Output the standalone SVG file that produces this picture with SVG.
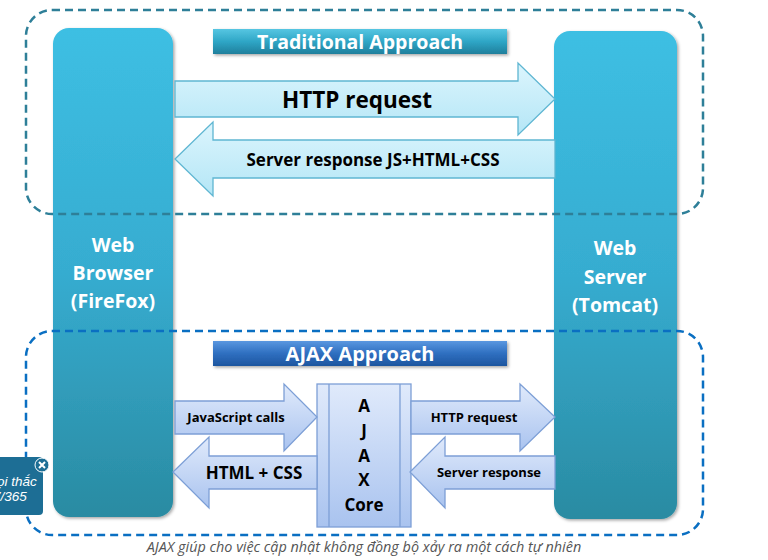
<svg xmlns="http://www.w3.org/2000/svg" width="768" height="560" viewBox="0 0 768 560">
<defs>
<linearGradient id="gCol" x1="0" y1="0" x2="0" y2="1">
<stop offset="0" stop-color="#3dbfe3"/>
<stop offset="0.5" stop-color="#36acd0"/>
<stop offset="1" stop-color="#2a8ba2"/>
</linearGradient>
<linearGradient id="gTrad" x1="0" y1="0" x2="0" y2="1">
<stop offset="0" stop-color="#56c6e2"/>
<stop offset="0.5" stop-color="#2fa6c6"/>
<stop offset="1" stop-color="#1f7f9c"/>
</linearGradient>
<linearGradient id="gAjax" x1="0" y1="0" x2="0" y2="1">
<stop offset="0" stop-color="#5a97e0"/>
<stop offset="0.5" stop-color="#2f6fc0"/>
<stop offset="1" stop-color="#1d559f"/>
</linearGradient>
<linearGradient id="gCyan" x1="0" y1="0" x2="0" y2="1">
<stop offset="0" stop-color="#dcf5fd"/>
<stop offset="1" stop-color="#b4e6f6"/>
</linearGradient>
<linearGradient id="gBlue" x1="0" y1="0" x2="0" y2="1">
<stop offset="0" stop-color="#e0eafb"/>
<stop offset="1" stop-color="#a9c3ef"/>
</linearGradient>
<filter id="sh" x="-10%" y="-10%" width="130%" height="130%">
<feDropShadow dx="1.5" dy="1.5" stdDeviation="1.5" flood-color="#000" flood-opacity="0.35"/>
</filter>
</defs>
<style>
.col{fill:url(#gCol);filter:url(#sh)}
.colt{font-family:"Open Sans","Liberation Sans",sans-serif;font-weight:bold;font-size:19.5px;fill:#fff;text-anchor:middle}
.ban{font-family:"Open Sans","Liberation Sans",sans-serif;font-weight:bold;fill:#fff;text-anchor:middle}
.cy{fill:url(#gCyan);stroke:#5fb6d2;stroke-width:1.3}
.bl{fill:url(#gBlue);stroke:#7d9fd6;stroke-width:1.3}
.lab{font-family:"Open Sans","Liberation Sans",sans-serif;font-weight:bold;fill:#000;text-anchor:middle}
.frame1{fill:none;stroke:#2e7f98;stroke-width:2.5;stroke-dasharray:8 5}
.frame2{fill:none;stroke:#0a6fc2;stroke-width:2.5;stroke-dasharray:8 5}
</style>
<rect x="0" y="0" width="768" height="560" fill="#fff"/>

<g id="browser">
<rect class="col" x="53" y="28" width="120" height="489" rx="16"/>
<text class="colt" x="113" y="252">Web</text>
<text class="colt" x="113" y="280">Browser</text>
<text class="colt" x="113" y="308">(FireFox)</text>
</g>
<g id="server">
<rect class="col" x="554" y="31" width="123" height="488" rx="16"/>
<text class="colt" x="615" y="255">Web</text>
<text class="colt" x="615" y="284">Server</text>
<text class="colt" x="615" y="312">(Tomcat)</text>
</g>

<g id="frames">
<rect class="frame1" x="26" y="10" width="677" height="204" rx="26"/>
<rect class="frame2" x="26" y="331" width="677" height="204" rx="26"/>
</g>

<g id="traditional-banner">
<rect x="213" y="29" width="294" height="25" fill="url(#gTrad)" filter="url(#sh)"/>
<text class="ban" x="360" y="49" font-size="19.5">Traditional Approach</text>
</g>
<g id="ajax-banner">
<rect x="213" y="341" width="294" height="25" fill="url(#gAjax)" filter="url(#sh)"/>
<text class="ban" x="360" y="361" font-size="20">AJAX Approach</text>
</g>

<g id="ajax-core">
<rect class="bl" x="317" y="384" width="94" height="143"/>
<line x1="329" y1="384" x2="329" y2="527" stroke="#7d9fd6" stroke-width="1.3"/>
<line x1="400" y1="384" x2="400" y2="527" stroke="#7d9fd6" stroke-width="1.3"/>
<text class="lab" x="364" y="412" font-size="17">A</text>
<text class="lab" x="364" y="437" font-size="17">J</text>
<text class="lab" x="364" y="462" font-size="17">A</text>
<text class="lab" x="364" y="486" font-size="17">X</text>
<text class="lab" x="364" y="511" font-size="17">Core</text>
</g>

<g id="connectors">
<g id="trad-request">
<path class="cy" d="M175 81 H518 V63 L555 99 L518 135 V117 H175 Z"/>
<text class="lab" x="357" y="108" font-size="22.5">HTTP request</text>
</g>
<g id="trad-response">
<path class="cy" d="M555 140 H213 V122 L175 159 L213 196 V178 H555 Z"/>
<text class="lab" x="373" y="166" font-size="17">Server response JS+HTML+CSS</text>
</g>
<g id="js-calls">
<path class="bl" d="M175 401 H284 V384 L317 417 L284 451 V434 H175 Z"/>
<text class="lab" x="236" y="422" font-size="13">JavaScript calls</text>
</g>
<g id="html-css">
<path class="bl" d="M317 456 H209 V437 L173 472 L209 508 V489 H317 Z"/>
<text class="lab" x="254" y="479" font-size="17">HTML + CSS</text>
</g>
<g id="ajax-request">
<path class="bl" d="M411 401 H520 V384 L555 417 L520 451 V434 H411 Z"/>
<text class="lab" x="474" y="422" font-size="13">HTTP request</text>
</g>
<g id="ajax-response">
<path class="bl" d="M555 456 H445 V437 L410 472 L445 508 V489 H555 Z"/>
<text class="lab" x="489" y="477" font-size="13">Server response</text>
</g>
</g>

<g id="caption">
<text x="364" y="552" font-family="'Open Sans','Noto Sans',sans-serif" font-style="italic" font-size="14.4" fill="#555" text-anchor="middle">AJAX giúp cho việc cập nhật không đồng bộ xảy ra một cách tự nhiên</text>
</g>

<g id="tooltip">
<rect x="-8" y="457" width="51" height="58" rx="4" fill="#1d6e95"/>
<text x="-3" y="486" font-family="'Liberation Sans',sans-serif" font-style="italic" font-size="13.5" fill="#fff">ọi thắc</text>
<text x="-7" y="501" font-family="'Liberation Sans',sans-serif" font-style="italic" font-size="13.5" fill="#fff">7/365</text>
<circle cx="42" cy="465" r="7" fill="#1d6e95" stroke="#fff" stroke-width="1"/>
<path d="M39 462 L45 468 M45 462 L39 468" stroke="#fff" stroke-width="2"/>
</g>
</svg>
